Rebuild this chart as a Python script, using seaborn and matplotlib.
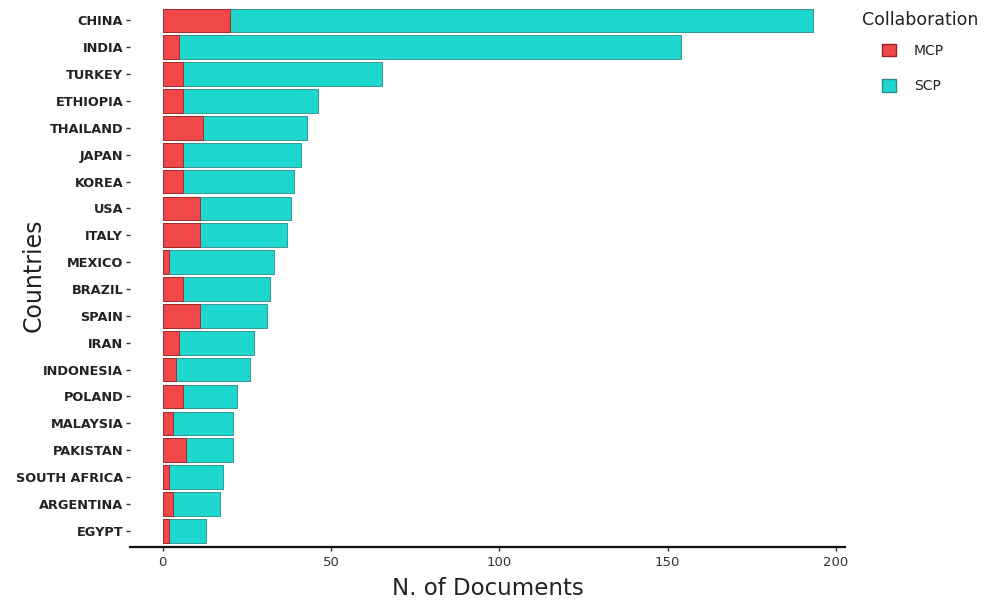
import numpy as np
import pandas as pd
import matplotlib
matplotlib.use('Agg')
import matplotlib.pyplot as plt
import seaborn as sns
from matplotlib.patches import Patch

# 数据
countries = ['CHINA', 'INDIA', 'TURKEY', 'ETHIOPIA', 'THAILAND', 'JAPAN', 'KOREA',
             'USA', 'ITALY', 'MEXICO', 'BRAZIL', 'SPAIN', 'IRAN', 'INDONESIA',
             'POLAND', 'MALAYSIA', 'PAKISTAN', 'SOUTH AFRICA', 'ARGENTINA', 'EGYPT']
total_docs = [193, 154, 65, 46, 43, 41, 39, 38, 37, 33, 32, 31, 27, 26, 22, 21, 21, 18, 17, 13]
mcp_docs = [20, 5, 6, 6, 12, 6, 6, 11, 11, 2, 6, 11, 5, 4, 6, 3, 7, 2, 3, 2]

scp_color = '#1ED8D0'
mcp_color = '#F04848'

df = pd.DataFrame({'country': countries, 'total': total_docs, 'MCP': mcp_docs})
df['SCP'] = df['total'] - df['MCP']

sns.set_style('white')
plt.rcParams['font.family'] = ['DejaVu Sans']

fig, ax = plt.subplots(figsize=(9.86, 6.05), dpi=100)

# 总数条 (SCP 部分在外层), 再叠加 MCP
sns.barplot(data=df, x='total', y='country', orient='h', color=scp_color,
            width=0.88, edgecolor='#2a8a86', linewidth=0.6, ax=ax, saturation=1)
sns.barplot(data=df, x='MCP', y='country', orient='h', color=mcp_color,
            width=0.88, edgecolor='#a02020', linewidth=0.6, ax=ax, saturation=1)

ax.set_xlim(-9.65, 202.65)
ax.set_ylim(len(countries) - 0.4, -0.6)
ax.set_xticks([0, 50, 100, 150, 200])
ax.set_xlabel('N. of Documents', fontsize=16.5, color='#222222', labelpad=6)
ax.set_ylabel('Countries', fontsize=17, color='#222222')
ax.yaxis.set_label_coords(-0.118, 0.5)
ax.tick_params(axis='y', labelsize=9.3, length=3, width=1, colors='#333333', left=True, pad=2)
ax.tick_params(axis='x', labelsize=9.5, length=3, width=1, colors='#333333', bottom=True)
for lab in ax.get_yticklabels():
    lab.set_color('#222222')
    lab.set_fontweight('bold')

for side in ['top', 'right', 'left']:
    ax.spines[side].set_visible(False)
ax.spines['bottom'].set_linewidth(1.6)
ax.spines['bottom'].set_color('#111111')

# 图例
fig.text(862 / 986, 1 - 20 / 605, 'Collaboration', fontsize=12.5, color='#222222',
         ha='left', va='center')
handles = [Patch(facecolor=mcp_color, edgecolor='#a02020', label='MCP'),
           Patch(facecolor=scp_color, edgecolor='#2a8a86', label='SCP')]
leg = ax.legend(handles=handles, loc='upper left',
                bbox_to_anchor=(872 / 986, 1 - 34 / 605), bbox_transform=fig.transFigure,
                frameon=False, fontsize=10, handlelength=1.0, handleheight=1.0,
                labelspacing=1.55, handletextpad=1.3, borderpad=0.2)
for t in leg.get_texts():
    t.set_color('#222222')

plt.subplots_adjust(left=0.132, right=0.857, top=0.993, bottom=0.096)
fig.savefig('out.png', dpi=100)
